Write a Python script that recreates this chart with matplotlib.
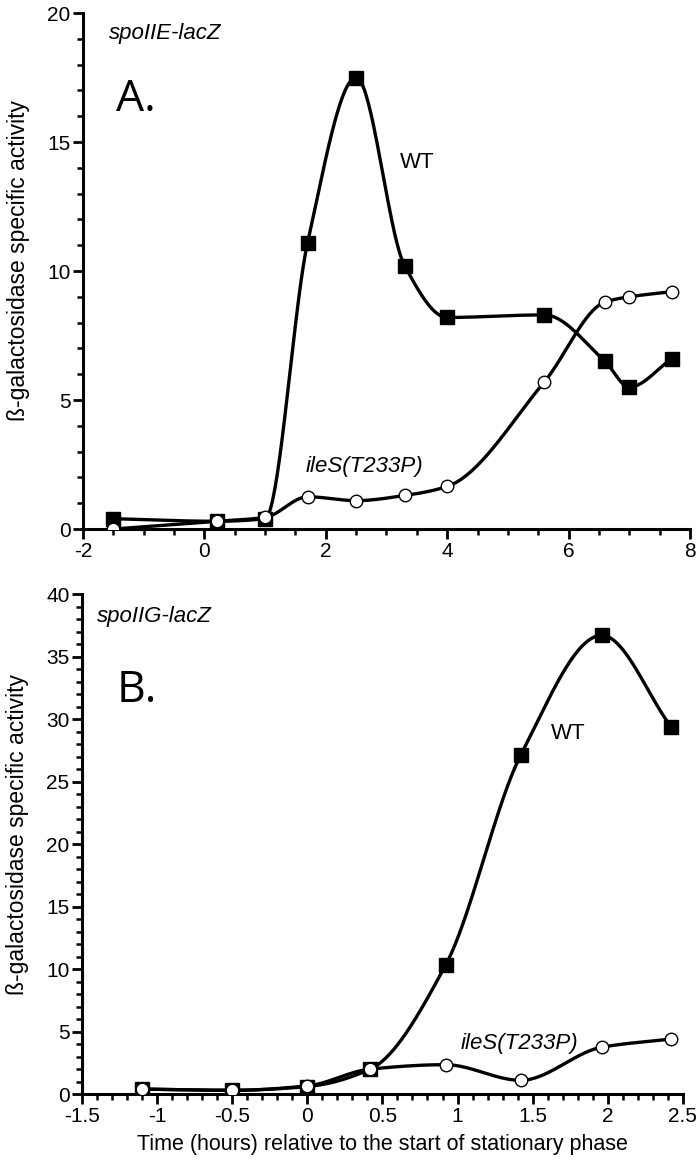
import numpy as np
import matplotlib.pyplot as plt
from matplotlib.ticker import MultipleLocator

plt.rcParams['font.family'] = ['Liberation Sans', 'DejaVu Sans']
plt.rcParams['axes.unicode_minus'] = False

# panel A: spoIIE-lacZ
a_time = [-1.5, 0.2, 1.0, 1.7, 2.5, 3.3, 4.0, 5.6, 6.6, 7.0, 7.7]
a_wt = [0.4, 0.3, 0.4, 11.1, 17.5, 10.2, 8.2, 8.3, 6.5, 5.5, 6.6]
a_iles = [0.0, 0.3, 0.45, 1.25, 1.1, 1.3, 1.65, 5.7, 8.8, 9.0, 9.2]

# panel B: spoIIG-lacZ
b_time = [-1.1, -0.5, 0.0, 0.42, 0.92, 1.42, 1.96, 2.42]
b_wt = [0.4, 0.3, 0.6, 2.0, 10.3, 27.1, 36.7, 29.4]
b_iles = [0.4, 0.3, 0.65, 2.0, 2.35, 1.1, 3.75, 4.4]


def smooth(x, y, n=40):
    # monotone cubic (pchip) through the points
    x = np.asarray(x, float)
    y = np.asarray(y, float)
    h = np.diff(x)
    delta = np.diff(y) / h
    d = np.zeros_like(y)
    for k in range(1, len(x) - 1):
        if delta[k - 1] * delta[k] > 0:
            w1 = 2 * h[k] + h[k - 1]
            w2 = h[k] + 2 * h[k - 1]
            d[k] = (w1 + w2) / (w1 / delta[k - 1] + w2 / delta[k])
    d[0] = delta[0]
    d[-1] = delta[-1]
    xs, ys = [], []
    for k in range(len(x) - 1):
        t = np.linspace(0, 1, n)
        h00 = 2 * t**3 - 3 * t**2 + 1
        h10 = t**3 - 2 * t**2 + t
        h01 = -2 * t**3 + 3 * t**2
        h11 = t**3 - t**2
        xs.append(x[k] + t * h[k])
        ys.append(h00 * y[k] + h10 * h[k] * d[k] + h01 * y[k + 1] + h11 * h[k] * d[k + 1])
    return np.concatenate(xs), np.concatenate(ys)


def draw(ax, x, wt, iles):
    sx, sy = smooth(x, wt)
    ax.plot(sx, sy, color='black', lw=2.4, zorder=2)
    ax.plot(x, wt, 's', color='black', ms=9.5, zorder=3)
    sx, sy = smooth(x, iles)
    ax.plot(sx, sy, color='black', lw=2.4, zorder=4)
    ax.plot(x, iles, 'o', mfc='white', mec='black', mew=1, ms=9, zorder=5)


def style(ax):
    for s in ['top', 'right']:
        ax.spines[s].set_visible(False)
    for s in ['left', 'bottom']:
        ax.spines[s].set_linewidth(2.2)
    ax.tick_params(which='major', length=7, width=2, labelsize=15, pad=2)
    ax.tick_params(which='minor', length=4, width=1.8)
    ax.set_ylabel('ß-galactosidase specific activity', fontsize=16.5)
    ax.yaxis.set_label_coords(-0.088, 0.52)


fig = plt.figure(figsize=(7, 11.66), dpi=100)

ax1 = fig.add_axes([0.1186, 0.5463, 0.867, 0.4425])
draw(ax1, a_time, a_wt, a_iles)
ax1.set_xlim(-2, 8)
ax1.set_ylim(0, 20)
ax1.xaxis.set_major_locator(MultipleLocator(2))
ax1.xaxis.set_minor_locator(MultipleLocator(0.5))
ax1.yaxis.set_major_locator(MultipleLocator(5))
ax1.yaxis.set_minor_locator(MultipleLocator(1))
style(ax1)
ax1.text(-1.58, 19.0, 'spoIIE-lacZ', style='italic', fontsize=16)
ax1.text(-1.45, 16.2, 'A.', family='Open Sans', fontsize=32)
ax1.text(3.22, 14.0, 'WT', fontsize=16)
ax1.text(1.66, 2.2, 'ileS(T233P)', style='italic', fontsize=16)

ax2 = fig.add_axes([0.117, 0.0617, 0.8586, 0.4288])
draw(ax2, b_time, b_wt, b_iles)
ax2.set_xlim(-1.5, 2.5)
ax2.set_ylim(0, 40)
ax2.yaxis.set_major_locator(MultipleLocator(5))
ax2.yaxis.set_minor_locator(MultipleLocator(1))
ax2.xaxis.set_minor_locator(MultipleLocator(0.1))
ax2.set_xticks(np.arange(-1.5, 2.51, 0.5))
ax2.set_xticklabels(['-1.5', '-1', '-0.5', '0', '0.5', '1', '1.5', '2', '2.5'])
style(ax2)
ax2.set_xlabel('Time (hours) relative to the start of stationary phase', fontsize=15.5, labelpad=6)
ax2.text(-1.4, 37.8, 'spoIIG-lacZ', style='italic', fontsize=16)
ax2.text(-1.27, 31.4, 'B.', family='Open Sans', fontsize=32)
ax2.text(1.62, 28.4, 'WT', fontsize=16)
ax2.text(1.02, 3.6, 'ileS(T233P)', style='italic', fontsize=16)

fig.savefig('out.png', dpi=100)
